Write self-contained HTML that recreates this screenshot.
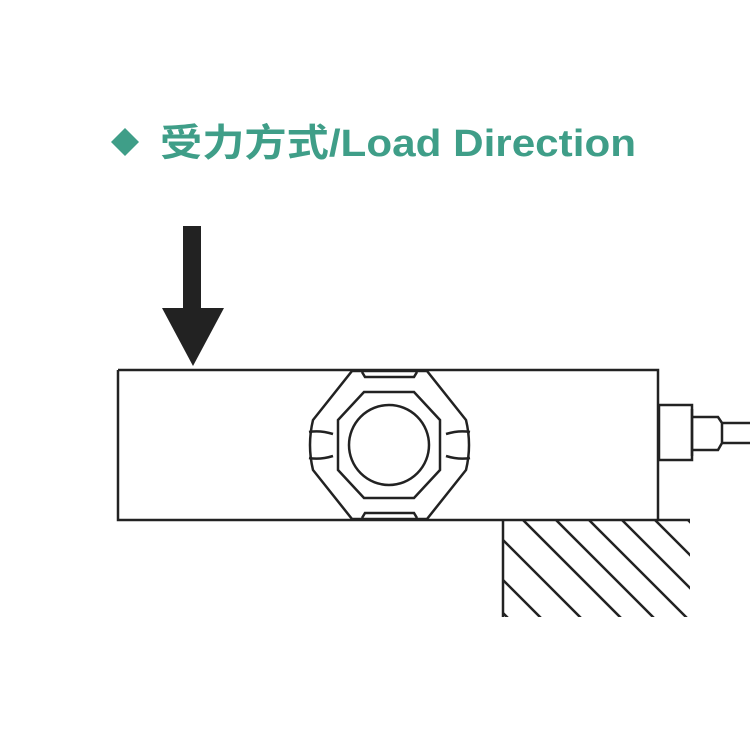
<!DOCTYPE html>
<html><head><meta charset="utf-8"><style>
html,body{margin:0;padding:0;background:#fff;width:750px;height:750px;overflow:hidden}
</style></head><body>
<svg width="750" height="750" viewBox="0 0 750 750" xmlns="http://www.w3.org/2000/svg">
<rect width="750" height="750" fill="#fff"/>
<polygon points="125,128 139,142 125,156 111,142" fill="#3f9e88"/>
<text x="160" y="156" font-family="Liberation Sans, Noto Sans CJK SC, sans-serif" font-weight="bold" font-size="38" fill="#3f9e88" textLength="476" lengthAdjust="spacingAndGlyphs">受力方式/Load Direction</text>
<!-- arrow -->
<rect x="183" y="226" width="18" height="84" fill="#222"/>
<polygon points="162,308 224,308 193,366" fill="#222"/>
<g fill="none" stroke="#222" stroke-width="2.5">
<!-- body -->
<path d="M118,370 H658 V520 M118,370 V520 H690"/>
<!-- outer hex -->
<path d="M352,371 L427,371 L466,420 Q472,445 466,470 L427,519 L352,519 L313,470 Q307,445 313,420 Z"/>
<path d="M362,372 L365,377 H414 L417,372 M362,518 L365,513 H414 L417,518"/>
<path d="M309,432 Q320,430 333,434 M309,458 Q320,460 333,456 M470,432 Q459,430 446,434 M470,458 Q459,460 446,456"/>
<!-- inner octagon -->
<path d="M364,392 H414 L440,420 V470 L414,498 H364 L338,470 V420 Z"/>
<circle cx="389" cy="445" r="40"/>
<!-- connector -->
<rect x="659" y="405" width="33" height="55"/>
<path d="M692,409 V456 M692,417 H718 L722,423 M692,450 H718 L722,443 M722,423 V443 M722,423 H750 M722,443 H750"/>
<!-- support -->
<path d="M503,520 V617"/>
</g>
<clipPath id="c"><rect x="503" y="521" width="187" height="96"/></clipPath>
<g clip-path="url(#c)" stroke="#222" stroke-width="2.5">
<line x1="443" y1="520" x2="560" y2="637"/>
<line x1="483" y1="520" x2="600" y2="637"/>
<line x1="523" y1="520" x2="640" y2="637"/>
<line x1="556" y1="520" x2="673" y2="637"/>
<line x1="589" y1="520" x2="706" y2="637"/>
<line x1="622" y1="520" x2="739" y2="637"/>
<line x1="655" y1="520" x2="772" y2="637"/>
<line x1="688" y1="520" x2="805" y2="637"/>
<line x1="410" y1="520" x2="527" y2="637"/>
</g>
</svg>
</body></html>
